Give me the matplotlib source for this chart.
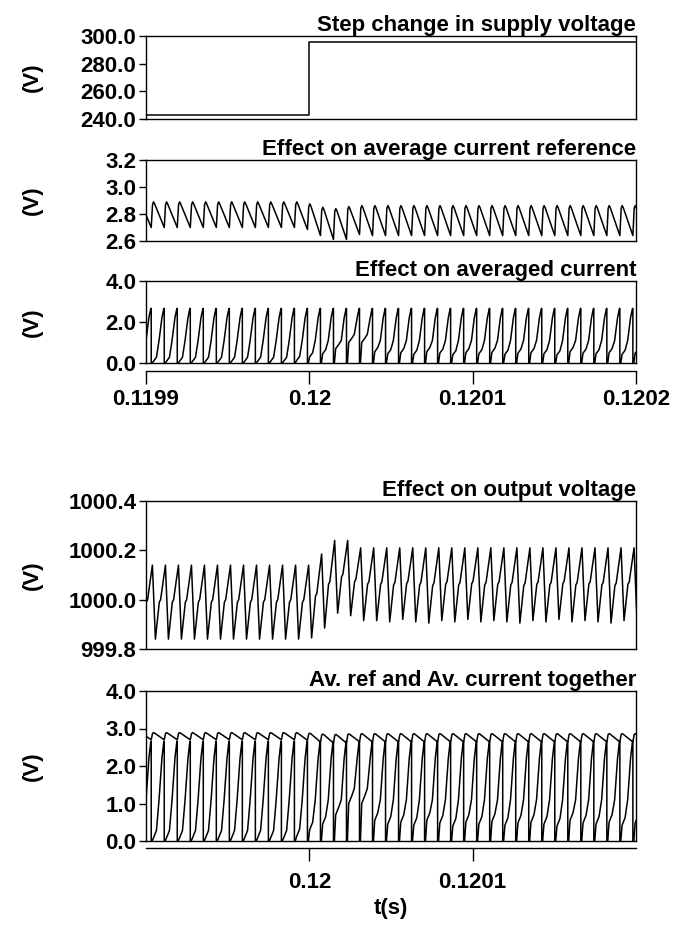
import matplotlib
matplotlib.use("Agg")
import matplotlib.pyplot as plt
from matplotlib.ticker import FormatStrFormatter

plt.rcParams["font.family"] = ["Liberation Sans", "DejaVu Sans"]
plt.rcParams["font.weight"] = "bold"

# time window and switching timing (s)
T_START = 0.1199
T_END = 0.1202
T_STEP = 0.12
PERIOD = 7.97e-6
FIRST_RESET = 0.1199 + 3.2e-6 - PERIOD  # reset index -1, cycles k = -1 .. 38

# supply voltage before / after the step
vin_time = [T_START, T_STEP, T_STEP, T_END]
vin_vals = [243.0, 243.0, 296.0, 296.0]

# average current reference, per cycle: peak after reset, valley at reset
ref_peak = [2.89] * 13 + [2.875, 2.85, 2.84, 2.855] + [2.862] * 23
ref_valley = [2.70] * 13 + [2.685, 2.64, 2.612, 2.612, 2.648] + [2.64] * 22

# averaged current, per cycle knee level (ramp peak is constant)
cur_knee = ([0.08] * 12 + [0.12, 0.3, 0.45, 0.7, 1.0, 1.0, 0.55]
            + [0.45, 0.5, 0.42, 0.55, 0.48, 0.4, 0.5, 0.45, 0.52, 0.42, 0.48,
               0.5, 0.45, 0.4, 0.55, 0.48, 0.45, 0.5, 0.42, 0.47, 0.5])
cur_peak = 2.66

# output voltage, per cycle peak and valley
vo_peak = [1000.14] * 14 + [1000.185, 1000.24, 1000.24, 1000.21] + [1000.21] * 22
vo_valley = ([999.84] * 13 + [999.845, 999.885, 999.945, 999.935, 999.915]
             + [999.915, 999.91, 999.92, 999.91, 999.905, 999.915, 999.91, 999.92,
                999.91, 999.915, 999.91, 999.905, 999.915, 999.91, 999.92, 999.91,
                999.915, 999.91, 999.905, 999.915, 999.91, 999.915])

titles = ["Step change in supply voltage", "Effect on average current reference",
          "Effect on averaged current", "Effect on output voltage",
          "Av. ref and Av. current together"]
top_xticks = [0.1199, 0.12, 0.1201, 0.1202]
top_xlabels = ["0.1199", "0.12", "0.1201", "0.1202"]
bot_xticks = [0.12, 0.1201]
bot_xlabels = ["0.12", "0.1201"]

n_cyc = len(ref_peak)


def reset_time(k):
    return FIRST_RESET + k * PERIOD


# reference: quick rise to a rounded peak, then slow fall to next valley
t_ref, y_ref = [], []
for k in range(n_cyc):
    t0 = reset_time(k)
    for f, v in [(0.0, ref_valley[k]), (0.1, ref_peak[k] - 0.02),
                 (0.18, ref_peak[k]), (0.26, ref_peak[k] - 0.015)]:
        t_ref.append(t0 + f * PERIOD)
        y_ref.append(v)
t_ref.append(reset_time(n_cyc))
y_ref.append(ref_valley[-1])

# averaged current: reset to zero, knee, ramp up to the peak
t_cur, y_cur = [], []
for k in range(n_cyc):
    t0 = reset_time(k)
    kn = cur_knee[k]
    pts = [(0.0, 0.0), (0.07, 0.0), (0.17, kn), (0.4, kn + 0.2),
           (0.6, max(kn + 0.4, 1.1)), (0.82, max(kn + 0.8, 2.2)),
           (0.97, cur_peak), (1.0, cur_peak)]
    for f, v in pts:
        t_cur.append(t0 + f * PERIOD)
        y_cur.append(v)

# output voltage: slow rise with a shoulder, fast fall
t_vo, y_vo = [], []
for k in range(n_cyc - 1):
    t0 = reset_time(k)
    mid = vo_valley[k] + 0.5 * (vo_peak[k + 1] - vo_valley[k])
    for f, v in [(0.09, vo_peak[k]), (0.32, vo_valley[k]),
                 (0.62, mid), (0.72, mid + 0.01)]:
        t_vo.append(t0 + f * PERIOD)
        y_vo.append(v)

fig = plt.figure(figsize=(6.88, 9.26), dpi=100)
left, width = 146 / 688, 490 / 688
rows = [(36, 119), (160, 241), (281, 363), (501, 649), (691, 841)]
axes = []
for top, bot in rows:
    axes.append(fig.add_axes([left, 1 - bot / 926, width, (bot - top) / 926]))

FS = 16
LW = 1.1


def style(ax, ylim, yticks, title):
    ax.set_xlim(T_START, T_END)
    ax.set_ylim(*ylim)
    ax.set_yticks(yticks)
    ax.yaxis.set_major_formatter(FormatStrFormatter("%.1f"))
    ax.tick_params(axis="y", direction="out", length=5, width=1, labelsize=FS, pad=2)
    ax.tick_params(axis="x", bottom=False, labelbottom=False)
    for s in ax.spines.values():
        s.set_linewidth(1.0)
    ax.set_title(title, loc="right", fontsize=FS, fontweight="bold", pad=3)
    ax.set_ylabel("(V)", fontsize=FS, fontweight="bold")
    ax.yaxis.set_label_coords(-0.21, 0.5)


ax1, ax2, ax3, ax4, ax5 = axes
ax1.plot(vin_time, vin_vals, color="black", lw=LW)
style(ax1, (240, 300), [240, 260, 280, 300], titles[0])

ax2.plot(t_ref, y_ref, color="black", lw=LW)
style(ax2, (2.6, 3.2), [2.6, 2.8, 3.0, 3.2], titles[1])

ax3.plot(t_cur, y_cur, color="black", lw=LW)
style(ax3, (0, 4), [0, 2, 4], titles[2])
sec3 = ax3.secondary_xaxis(-0.1)
sec3.set_xticks(top_xticks)
sec3.set_xticklabels(top_xlabels)
sec3.tick_params(length=9, width=1, labelsize=FS, pad=4)
sec3.spines["bottom"].set_linewidth(1.0)

ax4.plot(t_vo, y_vo, color="black", lw=LW)
style(ax4, (999.8, 1000.4), [999.8, 1000.0, 1000.2, 1000.4], titles[3])

ax5.plot(t_cur, y_cur, color="black", lw=LW)
ax5.plot(t_ref, y_ref, color="black", lw=LW)
style(ax5, (0, 4), [0, 1, 2, 3, 4], titles[4])
sec5 = ax5.secondary_xaxis(-0.047)
sec5.set_xticks(bot_xticks)
sec5.set_xticklabels(bot_xlabels)
sec5.tick_params(length=9, width=1, labelsize=FS, pad=8)
sec5.spines["bottom"].set_linewidth(1.0)
sec5.set_xlabel("t(s)", fontsize=FS, fontweight="bold", labelpad=4)

fig.savefig("out.png", dpi=100)
